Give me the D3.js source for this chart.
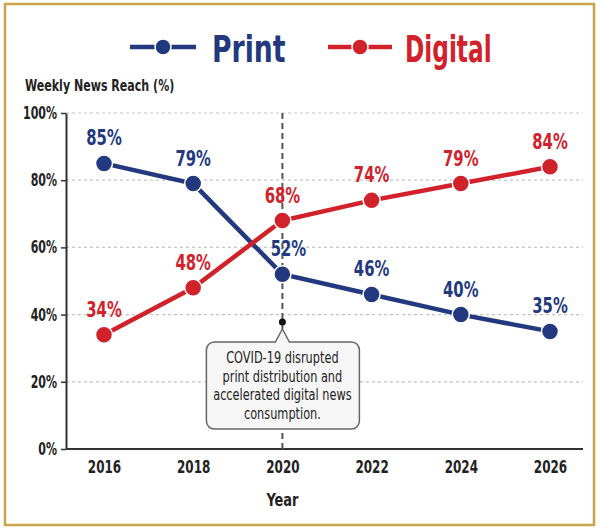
<!DOCTYPE html>
<html>
<head>
<meta charset="utf-8">
<script src="https://cdn.jsdelivr.net/npm/d3@7"></script>
<style>
  html, body { margin: 0; padding: 0; background: #fff; }
  svg { display: block; }
  text { font-family: "DejaVu Sans Condensed", "DejaVu Sans", sans-serif; font-stretch: condensed; }
</style>
</head>
<body>
<svg id="chart" width="600" height="529"></svg>
<script>
// chart data
const years = [2016, 2018, 2020, 2022, 2024, 2026];
const printReach = [85, 79, 52, 46, 40, 35];
const digitalReach = [34, 48, 68, 74, 79, 84];
const yTicks = [0, 20, 40, 60, 80, 100];
const noteYear = 2020;
const noteLines = ["COVID-19 disrupted", "print distribution and", "accelerated digital news", "consumption."];

const colors = { Print: "#22397f", Digital: "#d1222b" };
const gold = "#c9a44c";

const svg = d3.select("#chart");

// helper: place a horizontally squeezed text (the source uses a very narrow face)
function addText(parent, str, x, y, opts = {}) {
  const sx = opts.sx || 1;
  return parent.append("text")
    .attr("transform", `translate(${x},${y}) scale(${sx},1)`)
    .attr("text-anchor", opts.anchor || "start")
    .attr("fill", opts.fill || "#222")
    .style("font-size", (opts.size || 14) + "px")
    .style("font-weight", opts.weight || "normal")
    .text(str);
}

// gold frame
svg.append("rect")
  .attr("x", 5).attr("y", 4)
  .attr("width", 589).attr("height", 521)
  .attr("fill", "#fff")
  .attr("stroke", gold)
  .attr("stroke-width", 2.5);

// scales
const x = d3.scaleLinear().domain([2016, 2026]).range([104, 550]);
const y = d3.scaleLinear().domain([0, 100]).range([449, 113]);
const axisLeftX = 66, axisRightX = 583;

// gridlines
svg.append("g")
  .selectAll("line")
  .data(yTicks.filter(d => d > 0))
  .join("line")
  .attr("x1", axisLeftX).attr("x2", axisRightX)
  .attr("y1", d => y(d)).attr("y2", d => y(d))
  .attr("stroke", "#c4c4c4")
  .attr("stroke-width", 1.2)
  .attr("stroke-dasharray", "3,3");

// y axis
const ySx = 0.72;
const yAxis = svg.append("g")
  .attr("transform", `translate(${axisLeftX},0)`)
  .call(d3.axisLeft(y).tickValues(yTicks).tickFormat(d => d + "%").tickSize(5).tickSizeOuter(0));
yAxis.select(".domain").attr("stroke", "#333").attr("stroke-width", 2);
yAxis.selectAll(".tick line").attr("stroke", "#333").attr("stroke-width", 1.5);
yAxis.selectAll(".tick text")
  .attr("x", -9 / ySx)
  .attr("transform", `scale(${ySx},1)`)
  .attr("fill", "#222")
  .style("font-size", "17px")
  .style("font-weight", "bold");

// x axis
const xAxis = svg.append("g")
  .attr("transform", `translate(0,${y(0)})`)
  .call(d3.axisBottom(x).tickValues(years).tickFormat(d3.format("d")).tickSize(0).tickSizeOuter(0));
xAxis.select(".domain")
  .attr("d", `M${axisLeftX},0H${axisRightX}`)
  .attr("stroke", "#333").attr("stroke-width", 2);
xAxis.selectAll(".tick text")
  .attr("y", 11)
  .attr("transform", "scale(0.74,1)")
  .attr("fill", "#222")
  .style("font-size", "18px")
  .style("font-weight", "bold");

// axis titles
addText(svg, "Weekly News Reach (%)", 25, 91, { size: 15, weight: "bold", sx: 0.82 });
addText(svg, "Year", x(noteYear), 506, { size: 18, weight: "bold", anchor: "middle", sx: 0.8 });

// vertical dashed marker line
svg.append("line")
  .attr("x1", x(noteYear)).attr("x2", x(noteYear))
  .attr("y1", y(100)).attr("y2", y(0))
  .attr("stroke", "#555")
  .attr("stroke-width", 2)
  .attr("stroke-dasharray", "6,4");

// annotation callout
const cx = x(noteYear), tipY = 329;
const boxL = cx - 76, boxR = cx + 77, boxT = 342, boxB = 429, r = 8;
const callout = d3.path();
callout.moveTo(boxL + r, boxT);
callout.lineTo(cx - 7, boxT);
callout.lineTo(cx, tipY);
callout.lineTo(cx + 7, boxT);
callout.lineTo(boxR - r, boxT);
callout.arcTo(boxR, boxT, boxR, boxT + r, r);
callout.lineTo(boxR, boxB - r);
callout.arcTo(boxR, boxB, boxR - r, boxB, r);
callout.lineTo(boxL + r, boxB);
callout.arcTo(boxL, boxB, boxL, boxB - r, r);
callout.lineTo(boxL, boxT + r);
callout.arcTo(boxL, boxT, boxL + r, boxT, r);
callout.closePath();

svg.append("path")
  .attr("d", callout.toString())
  .attr("fill", "#f6f6f6")
  .attr("stroke", "#666")
  .attr("stroke-width", 1.5);

svg.append("circle")
  .attr("cx", cx).attr("cy", 322)
  .attr("r", 3.5)
  .attr("fill", "#111");

noteLines.forEach((d, i) => {
  addText(svg, d, cx, 363 + i * 18.5, { size: 15, anchor: "middle", sx: 0.84 });
});

// series lines, points and value labels
const series = [
  { name: "Print", values: printReach },
  { name: "Digital", values: digitalReach }
];

const line = d3.line().x((d, i) => x(years[i])).y(d => y(d));

series.forEach(s => {
  const g = svg.append("g");
  g.append("path")
    .datum(s.values)
    .attr("fill", "none")
    .attr("stroke", colors[s.name])
    .attr("stroke-width", 4.5)
    .attr("d", line);

  g.selectAll("circle")
    .data(s.values)
    .join("circle")
    .attr("cx", (d, i) => x(years[i]))
    .attr("cy", d => y(d))
    .attr("r", 8.5)
    .attr("fill", colors[s.name])
    .attr("stroke", "#fff")
    .attr("stroke-width", 1.5);

  s.values.forEach((d, i) => {
    const nudge = s.name === "Print" && years[i] === noteYear ? 6 : 0;
    addText(g, d + "%", x(years[i]) + nudge, y(d) - 18,
      { size: 22, weight: "bold", anchor: "middle", fill: colors[s.name], sx: 0.75 });
  });
});

// legend
const legend = svg.append("g");
const legendItems = [
  { name: "Print", x1: 130, x2: 196, tx: 212, sx: 0.78 },
  { name: "Digital", x1: 328, x2: 392, tx: 405, sx: 0.68 }
];
legendItems.forEach(item => {
  const c = colors[item.name];
  legend.append("line")
    .attr("x1", item.x1).attr("x2", item.x2)
    .attr("y1", 47).attr("y2", 47)
    .attr("stroke", c)
    .attr("stroke-width", 4.5);
  legend.append("circle")
    .attr("cx", (item.x1 + item.x2) / 2).attr("cy", 47)
    .attr("r", 8)
    .attr("fill", c)
    .attr("stroke", "#fff")
    .attr("stroke-width", 1.5);
  addText(legend, item.name, item.tx, 62, { size: 38, weight: "bold", fill: c, sx: item.sx });
});
</script>
</body>
</html>
